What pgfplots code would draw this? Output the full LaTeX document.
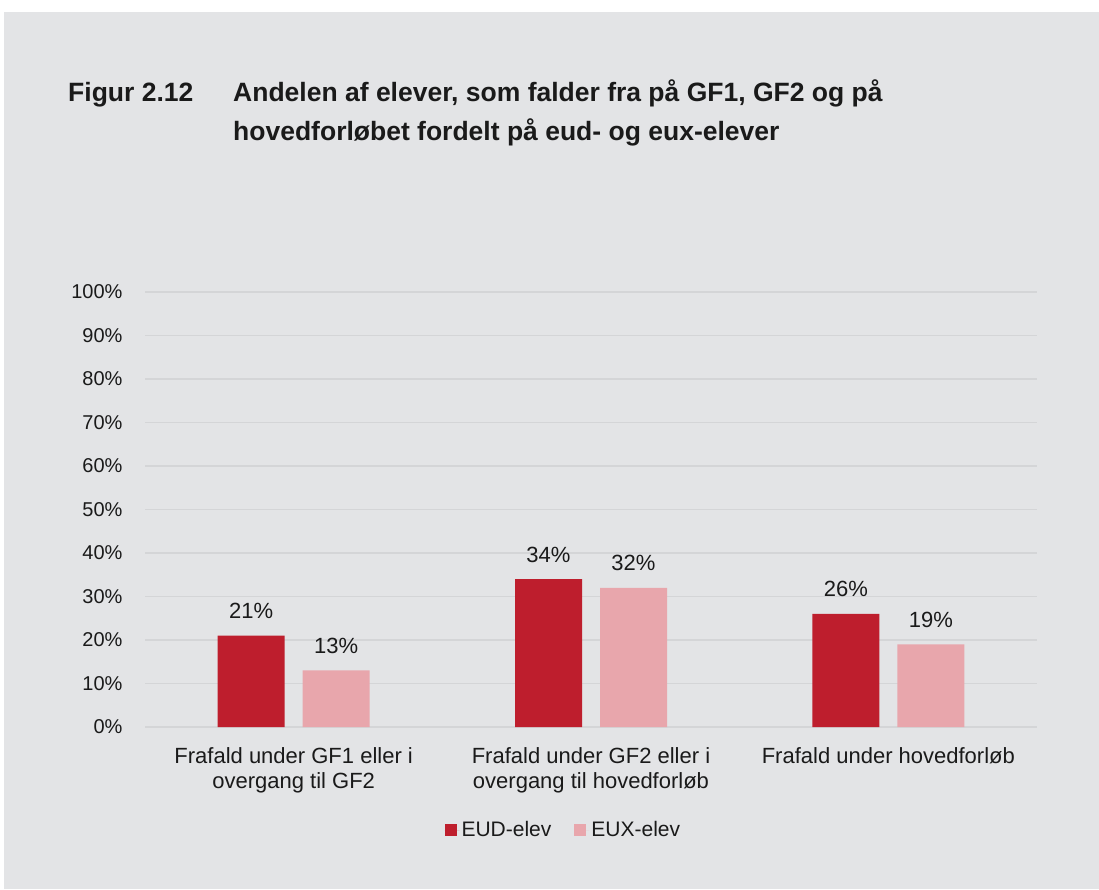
\documentclass[border=0pt]{standalone}
\usepackage{fontspec}
\setmainfont{Liberation Sans}
\usepackage{pgfplots}
\pgfplotsset{compat=1.18}
\definecolor{bgc}{HTML}{E3E4E6}
\definecolor{gridc}{HTML}{D4D5D7}
\definecolor{eud}{HTML}{BE1E2D}
\definecolor{eux}{HTML}{E8A6AC}
\definecolor{txt}{HTML}{1A1A1A}
\begin{document}
\begin{tikzpicture}
\useasboundingbox (0pt,0pt) rectangle (1099pt,-889pt);
\fill[white] (0pt,0pt) rectangle (1099pt,-889pt);
\fill[bgc] (4pt,-12pt) rectangle (1099pt,-889pt);
\node[anchor=base west, inner sep=0pt, font=\fontsize{26.5}{30}\selectfont\bfseries, text=txt] at (68pt,-101.5pt) {Figur 2.12};
\node[anchor=base west, inner sep=0pt, font=\fontsize{26.5}{30}\selectfont\bfseries, text=txt] at (233pt,-101.5pt) {Andelen af elever, som falder fra på GF1, GF2 og på};
\node[anchor=base west, inner sep=0pt, font=\fontsize{26.5}{30}\selectfont\bfseries, text=txt] at (233pt,-140pt) {hovedforløbet fordelt på eud- og eux-elever};
\begin{axis}[
  at={(145pt,-727pt)}, anchor=south west,
  scale only axis, width=892pt, height=435pt,
  xmin=-0.5, xmax=2.5, ymin=0, ymax=100,
  ybar=18pt, bar width=67pt,
  axis line style={draw=none},
  major tick length=0pt,
  ymajorgrids, grid style={color=gridc, line width=1.6pt},
  ytick={0,10,...,100},
  yticklabels={0\%,10\%,20\%,30\%,40\%,50\%,60\%,70\%,80\%,90\%,100\%},
  yticklabel style={font=\fontsize{20}{23}\selectfont, text=txt, xshift=-19pt},
  xtick={0,1,2},
  xticklabels={{Frafald under GF1 eller i\\overgang til GF2},{Frafald under GF2 eller i\\overgang til hovedforløb},{Frafald under hovedforløb}},
  xticklabel style={font=\fontsize{22}{25}\selectfont, text=txt, align=center, yshift=-17pt, anchor=north},
  /pgf/number format/assume math mode=true,
  nodes near coords={\pgfmathprintnumber{\pgfplotspointmeta}\%},
  every node near coord/.append style={font=\fontsize{22}{25}\selectfont, text=txt, anchor=base, inner sep=0pt, yshift=17pt},
  legend style={draw=none, fill=none, legend columns=2, at={(0.469,-0.237)}, anchor=center,
    font=\fontsize{21}{24}\selectfont, text=txt,
    /tikz/every even column/.append style={column sep=21pt}},
]
\addplot[fill=eud, draw=none, legend image code/.code={\fill[eud] (0pt,-6pt) rectangle (12pt,6pt); \path (0pt,0pt) -- (15pt,0pt);}] coordinates {(0,21) (1,34) (2,26)};
\addplot[fill=eux, draw=none, legend image code/.code={\fill[eux] (0pt,-6pt) rectangle (12pt,6pt); \path (0pt,0pt) -- (15pt,0pt);}] coordinates {(0,13) (1,32) (2,19)};
\legend{EUD-elev, EUX-elev}
\end{axis}
\end{tikzpicture}
\end{document}
